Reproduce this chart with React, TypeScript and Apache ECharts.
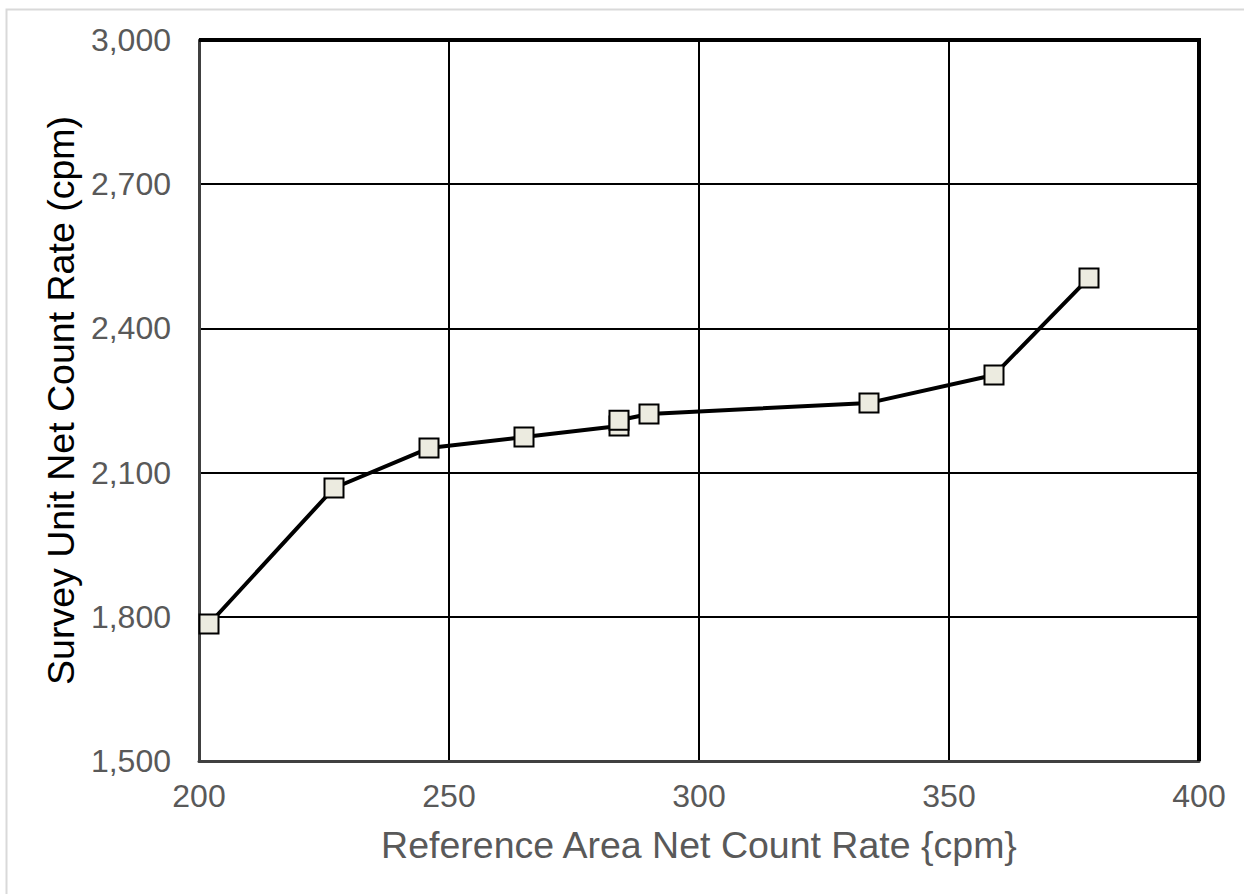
import React, { useEffect, useRef } from "react";
import * as echarts from "echarts";

const refRate = [202, 227, 246, 265, 284, 284, 290, 334, 359, 378];
const surveyRate = [1785, 2068, 2151, 2174, 2197, 2209, 2222, 2245, 2303, 2505];
const xTicks = [200, 250, 300, 350, 400];
const yTicks = [1500, 1800, 2100, 2400, 2700, 3000];

export default function App() {
  const ref = useRef<HTMLDivElement>(null);
  useEffect(() => {
    document.body.style.margin = "0";
    const chart = echarts.init(ref.current!, null, { renderer: "svg" });
    const font = "'Liberation Sans', Arial, sans-serif";
    chart.setOption({
      animation: false,
      backgroundColor: "#ffffff",
      graphic: [
        {
          type: "rect",
          shape: { x: 6.5, y: 9.5, width: 1260, height: 900 },
          style: { fill: "none", stroke: "#d9d9d9", lineWidth: 2 },
          silent: true,
        },
        {
          type: "polyline",
          shape: { points: [[199, 40], [1199, 40], [1199, 761]] },
          style: { fill: "none", stroke: "#000000", lineWidth: 4 },
          silent: true,
          z: 10,
        },
      ],
      grid: { left: 199, top: 40, width: 1000, height: 721, containLabel: false },
      xAxis: {
        type: "value",
        min: xTicks[0],
        max: xTicks[xTicks.length - 1],
        interval: 50,
        name: "Reference Area Net Count Rate {cpm}",
        nameLocation: "middle",
        nameGap: 65,
        nameTextStyle: { fontFamily: font, fontSize: 37.5, color: "#595959" },
        axisLine: { show: true, lineStyle: { color: "#404040", width: 3 } },
        axisTick: { show: false },
        axisLabel: { fontFamily: font, fontSize: 32, color: "#595959", margin: 19 },
        splitLine: { show: true, lineStyle: { color: "#000000", width: 2 } },
      },
      yAxis: {
        type: "value",
        min: yTicks[0],
        max: yTicks[yTicks.length - 1],
        interval: 300,
        name: "Survey Unit Net Count Rate (cpm)",
        nameLocation: "middle",
        nameGap: 116,
        nameTextStyle: { fontFamily: font, fontSize: 37.5, color: "#000000" },
        axisLine: { show: true, lineStyle: { color: "#404040", width: 3 } },
        axisTick: { show: false },
        axisLabel: {
          fontFamily: font,
          fontSize: 32,
          color: "#595959",
          margin: 28,
          formatter: (v: number) => v.toLocaleString("en-US"),
        },
        splitLine: { show: true, lineStyle: { color: "#000000", width: 2 } },
      },
      series: [
        {
          type: "line",
          data: refRate.map((x, i) => [x, surveyRate[i]]),
          symbol: "rect",
          symbolSize: 19,
          lineStyle: { color: "#000000", width: 4 },
          itemStyle: { color: "#ecebe0", borderColor: "#000000", borderWidth: 2 },
          z: 5,
        },
      ],
    });
    return () => chart.dispose();
  }, []);
  return <div ref={ref} style={{ width: 1244, height: 894 }} />;
}
